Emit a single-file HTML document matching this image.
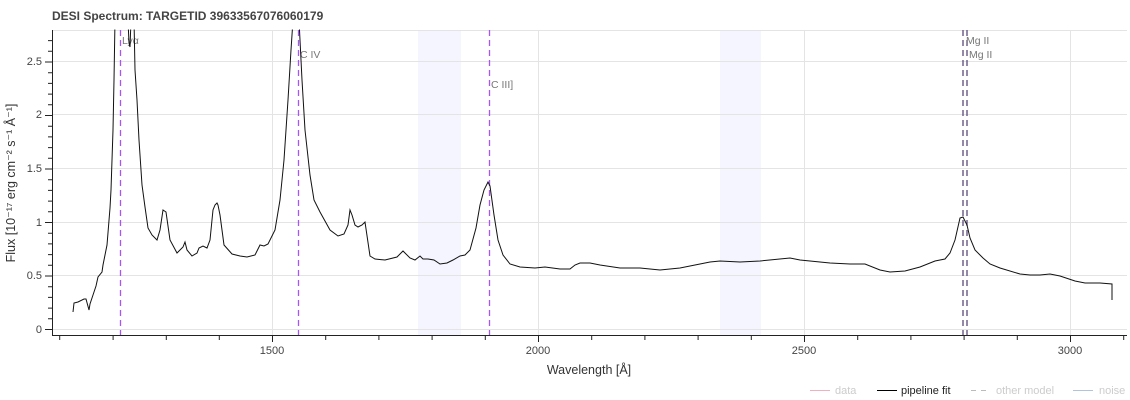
<!DOCTYPE html><html><head><style>body{margin:0;background:#fff}svg{display:block;font-family:"Liberation Sans",sans-serif}</style></head><body>
<svg width="1130" height="400" xmlns="http://www.w3.org/2000/svg">
<rect x="418" y="30" width="43" height="305" fill="#f5f5ff"/>
<rect x="720" y="30" width="41" height="305" fill="#f5f5ff"/>
<g stroke="#e4e4e4" stroke-width="1">
<line x1="272.5" y1="30" x2="272.5" y2="335"/><line x1="538.5" y1="30" x2="538.5" y2="335"/><line x1="804.5" y1="30" x2="804.5" y2="335"/><line x1="1070.5" y1="30" x2="1070.5" y2="335"/>
<line x1="52" y1="329.5" x2="1127" y2="329.5"/><line x1="52" y1="275.5" x2="1127" y2="275.5"/><line x1="52" y1="222.5" x2="1127" y2="222.5"/><line x1="52" y1="168.5" x2="1127" y2="168.5"/><line x1="52" y1="114.5" x2="1127" y2="114.5"/><line x1="52" y1="61.5" x2="1127" y2="61.5"/><line x1="52" y1="30.5" x2="1127" y2="30.5"/>
</g>
<g stroke="#a855f7" stroke-width="1.3" stroke-dasharray="6,4">
<line x1="120.5" y1="30" x2="120.5" y2="335"/><line x1="298.5" y1="30" x2="298.5" y2="335"/><line x1="489.5" y1="30" x2="489.5" y2="335"/>
</g>
<g stroke="#5a4a7a" stroke-width="1.3" stroke-dasharray="6,4">
<line x1="963" y1="30" x2="963" y2="335"/><line x1="967" y1="30" x2="967" y2="335"/></g>
<g fill="#777" font-size="10.5">
<text x="122" y="44">Lyα</text><text x="300" y="58">C IV</text><text x="491" y="88">C III]</text><text x="966" y="44">Mg II</text><text x="969" y="58">Mg II</text></g>
<polyline fill="none" stroke="#111" stroke-width="1" points="73,312 74,303 78,302 84,299 86,299 89,310 90,304 93,295 96,286 98,277 102,272 103,265 107,245 110,208 111,190 113,130 114,80 115,20 128,20 129,43 130,47 131,20 134,20 135,70 137,100 139,140 142,185 145,207 148,228 152,235 157,240 160,230 163,210 166,212 170,240 177,253 183,247 185,242 187,250 192,256 197,253 199,248 203,246 207,248 210,240 213,210 215,205 217,203 218,205 220,215 224,245 232,254 240,256 247,257 255,255 260,245 264,246 268,244 275,230 280,200 284,160 288,100 291,50 293,20 299,20 302,80 305,130 310,175 314,200 320,212 330,230 338,236 344,234 348,225 350,210 352,215 355,225 358,227 362,225 365,222 370,256 375,259 385,260 397,257 403,251 410,258 415,260 420,256 423,259 428,259 434,260 440,264 447,263 453,260 460,256 465,255 470,250 476,228 480,205 484,190 488,182 490,186 494,215 498,240 503,255 510,264 520,267 535,268 545,267 560,269 570,269 575,265 580,263 590,263 600,265 620,268 640,268 660,270 680,268 700,264 710,262 720,261 740,262 760,261 790,258 800,260 830,263 850,264 865,264 880,270 890,272 905,271 920,267 935,261 945,259 950,253 955,240 960,218 963,217 967,225 970,238 975,250 983,258 990,264 1000,268 1020,274 1030,275 1040,275 1050,274 1060,276 1075,281 1085,283 1100,283 1112,284 1112,300"/>
<rect x="0" y="0" width="1130" height="29.5" fill="#fff"/>
<g stroke="#222" stroke-width="1">
<line x1="52.5" y1="30" x2="52.5" y2="336"/><line x1="52" y1="335.5" x2="1127" y2="335.5"/>
</g>
<path stroke="#222" stroke-width="1" fill="none" d="M59.7,335v5M113.1,335v5M166.3,335v5M219.3,335v5M272.5,335v7M325.7,335v5M378.9,335v5M432.1,335v5M485.3,335v5M538.5,335v7M591.7,335v5M644.9,335v5M698.1,335v5M751.3,335v5M804.5,335v7M857.7,335v5M910.9,335v5M964.1,335v5M1017.3,335v5M1070.5,335v7M1123.7,335v5
M45,329.5h7M48,318.8h4M48,308.1h4M48,297.4h4M48,286.7h4M45,276h7M48,265.3h4M48,254.6h4M48,243.9h4M48,233.2h4M45,222.5h7M48,211.8h4M48,201.1h4M48,190.4h4M48,179.7h4M45,169h7M48,158.3h4M48,147.6h4M48,136.9h4M48,126.2h4M45,115.5h7M48,104.8h4M48,94.1h4M48,83.4h4M48,72.7h4M45,62h7M48,51.3h4M48,40.6h4"/>
<g fill="#444" font-size="11" text-anchor="end">
<text x="42" y="333">0</text><text x="42" y="279">0.5</text><text x="42" y="226">1</text><text x="42" y="172">1.5</text><text x="42" y="118">2</text><text x="42" y="65">2.5</text></g>
<g fill="#444" font-size="11" text-anchor="middle">
<text x="272" y="354">1500</text><text x="538" y="354">2000</text><text x="804" y="354">2500</text><text x="1070" y="354">3000</text></g>
<text x="589" y="374" font-size="12.5" fill="#333" text-anchor="middle">Wavelength [Å]</text>
<text transform="translate(15,183) rotate(-90)" font-size="12.5" fill="#333" text-anchor="middle">Flux [10⁻¹⁷ erg cm⁻² s⁻¹ Å⁻¹]</text>
<text x="52" y="20" font-size="12" font-weight="bold" fill="#444">DESI Spectrum: TARGETID 39633567076060179</text>
<g font-size="11">
<line x1="810" y1="390.5" x2="830" y2="390.5" stroke="#f0b0c0"/><text x="835" y="394" fill="#ccc">data</text>
<line x1="877" y1="390.5" x2="897" y2="390.5" stroke="#000"/><text x="901" y="394" fill="#222">pipeline fit</text>
<line x1="971" y1="390.5" x2="991" y2="390.5" stroke="#bbb" stroke-dasharray="5,5"/><text x="996" y="394" fill="#ccc">other model</text>
<line x1="1073" y1="390.5" x2="1093" y2="390.5" stroke="#b0c4de"/><text x="1099" y="394" fill="#ccc">noise</text>
</g>
</svg></body></html>
